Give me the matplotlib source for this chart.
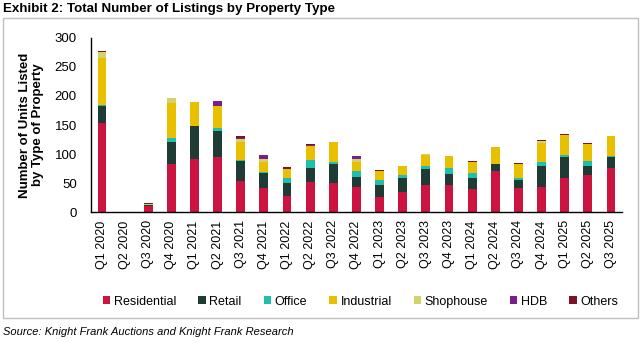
import numpy as np
import matplotlib
matplotlib.use("Agg")
import matplotlib.pyplot as plt
from matplotlib.patches import Rectangle

plt.rcParams['font.family'] = ['Liberation Sans', 'DejaVu Sans']

quarters = ["Q1 2020", "Q2 2020", "Q3 2020", "Q4 2020",
            "Q1 2021", "Q2 2021", "Q3 2021", "Q4 2021",
            "Q1 2022", "Q2 2022", "Q3 2022", "Q4 2022",
            "Q1 2023", "Q2 2023", "Q3 2023", "Q4 2023",
            "Q1 2024", "Q2 2024", "Q3 2024", "Q4 2024",
            "Q1 2025", "Q2 2025", "Q3 2025"]

residential = [153, 0, 10, 83, 92, 94, 54, 42, 28, 52, 50, 44, 26, 35, 47, 47, 40, 71, 42, 44, 59, 63, 76]
retail      = [30, 0, 2, 38, 56, 46, 34, 25, 22, 24, 33, 16, 21, 24, 27, 19, 19, 12, 13, 35, 36, 16, 19]
office      = [2, 0, 0, 7, 0, 5, 2, 2, 9, 14, 4, 11, 8, 5, 6, 10, 8, 0, 3, 8, 4, 9, 2]
industrial  = [81, 0, 0, 60, 42, 38, 30, 17, 16, 23, 33, 16, 16, 16, 19, 21, 19, 29, 25, 32, 33, 29, 34]
shophouse   = [10, 0, 2, 9, 0, 0, 6, 5, 0, 0, 0, 5, 0, 0, 1, 0, 0, 0, 0, 3, 0, 0, 0]
hdb         = [0, 0, 0, 0, 0, 8, 2, 7, 0, 3, 0, 4, 0, 0, 0, 0, 0, 0, 0, 0, 0, 0, 0]
others      = [1, 0, 1, 0, 0, 0, 3, 0, 3, 1, 1, 0, 2, 0, 0, 0, 2, 0, 2, 2, 2, 2, 0]

series = [("Residential", residential, "#CC1440"),
          ("Retail", retail, "#1E3B34"),
          ("Office", office, "#1FBFB0"),
          ("Industrial", industrial, "#E9C000"),
          ("Shophouse", shophouse, "#D2D36A"),
          ("HDB", hdb, "#7A1E8E"),
          ("Others", others, "#7C1428")]

fig = plt.figure(figsize=(6.44, 3.42), dpi=100)
ax = fig.add_axes([0.141, 0.380, 0.825, 0.509])

x = np.arange(len(quarters))
bottom = np.zeros(len(quarters))
for name, vals, col in series:
    ax.bar(x, vals, 0.38, bottom=bottom, color=col, label=name, linewidth=0)
    bottom += np.array(vals)

ax.set_xlim(-0.48, len(quarters) - 0.52)
ax.set_ylim(0, 300)
ax.set_yticks(range(0, 301, 50))
ax.set_xticks(x)
ax.set_xticklabels(quarters, rotation=90, fontsize=9)
ax.tick_params(axis='y', labelsize=9.5, length=0, pad=10)
ax.tick_params(axis='x', length=0, pad=6)
ax.spines['top'].set_visible(False)
ax.spines['right'].set_visible(False)
ax.spines['left'].set_linewidth(1)
ax.spines['bottom'].set_linewidth(1)
ax.set_ylabel("Number of Units Listed\nby Type of Property", fontsize=9.5,
              fontweight='bold', labelpad=8, linespacing=1.05)

leg = fig.legend(loc='center', bbox_to_anchor=(0.560, 0.118), ncol=7, frameon=False,
                 fontsize=9, handlelength=0.6, handleheight=0.6, handletextpad=0.3,
                 columnspacing=1.75)

fig.text(0.005, 0.975, "Exhibit 2: Total Number of Listings by Property Type",
         fontsize=9.6, fontweight='bold', va='center', ha='left')
fig.text(0.005, 0.028, "Source: Knight Frank Auctions and Knight Frank Research",
         fontsize=8, style='italic', va='center', ha='left')

# grey frame around the chart area
fig.add_artist(Rectangle((3 / 644, 1 - 318 / 342), 635 / 644, 300 / 342,
                         transform=fig.transFigure, fill=False,
                         edgecolor='#BFBFBF', linewidth=1))

fig.savefig("out.png", dpi=100)
